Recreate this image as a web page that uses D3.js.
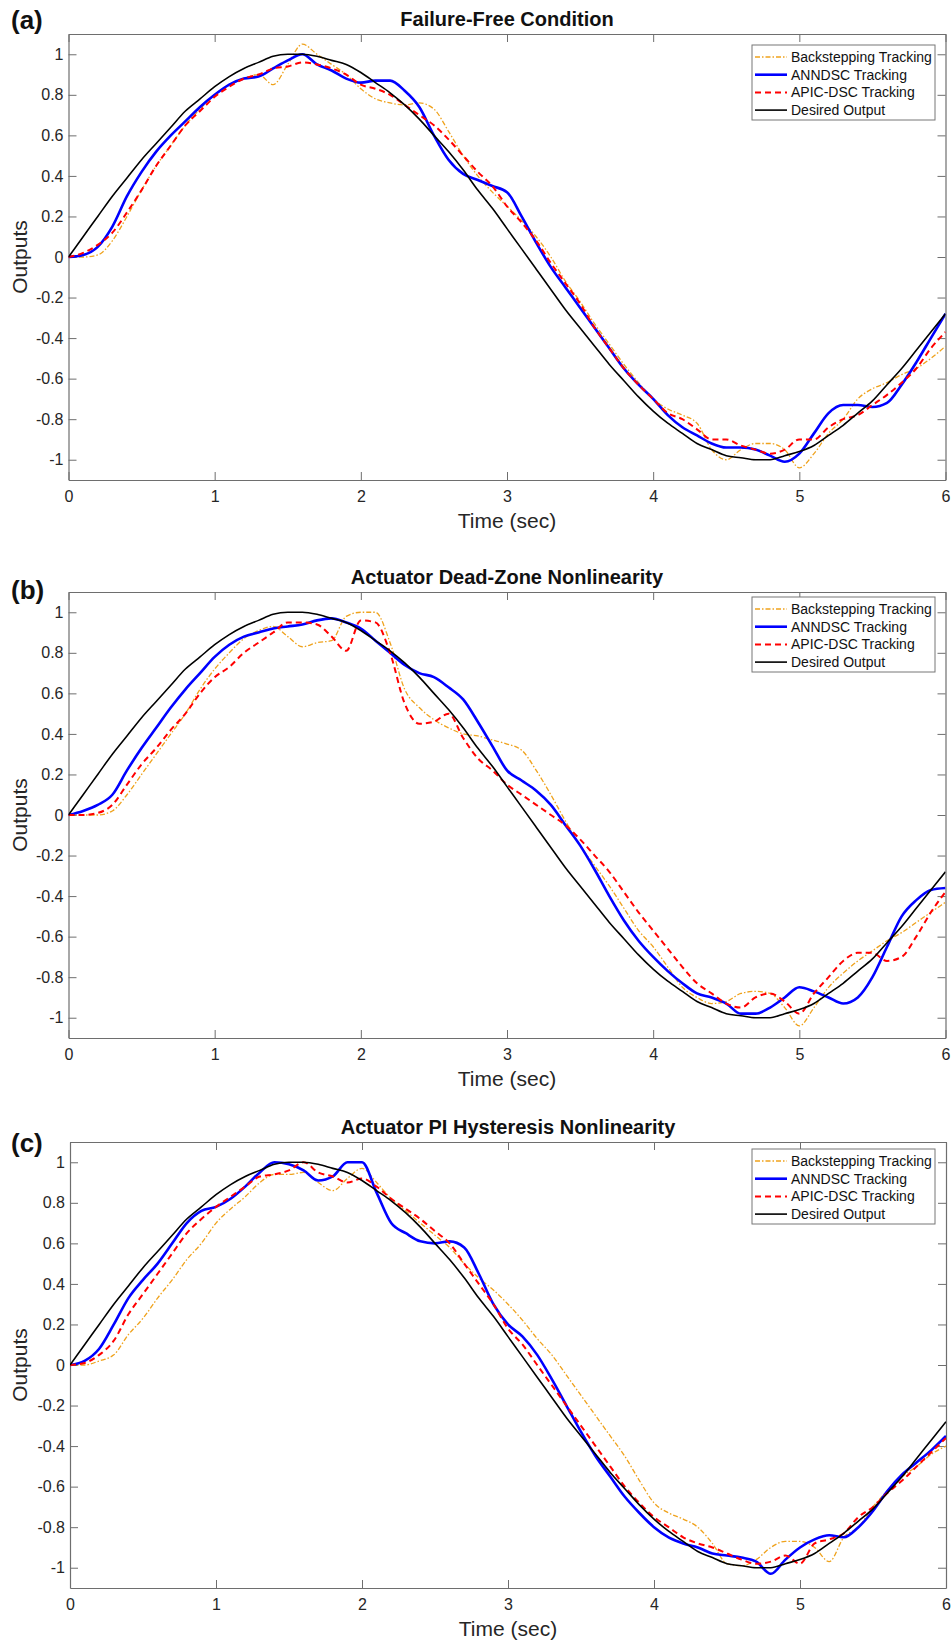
<!DOCTYPE html>
<html>
<head>
<meta charset="utf-8">
<script src="https://cdn.jsdelivr.net/npm/d3@7"></script>
<style>
  body { margin: 0; background: #fff; }
  text { font-family: "Liberation Sans", Arial, sans-serif; }
</style>
</head>
<body>
<svg id="chart" width="952" height="1641"></svg>
<script>
// time samples (sec)
const timeSec = [0,0.1,0.2,0.3,0.4,0.5,0.6,0.7,0.8,0.9,1,1.1,1.2,1.3,1.4,1.5,1.6,1.7,1.8,1.9,
  2,2.1,2.2,2.3,2.4,2.5,2.6,2.7,2.8,2.9,3,3.1,3.2,3.3,3.4,3.5,3.6,3.7,3.8,3.9,
  4,4.1,4.2,4.3,4.4,4.5,4.6,4.7,4.8,4.9,5,5.1,5.2,5.3,5.4,5.5,5.6,5.7,5.8,5.9,6];

const desired = [0,0.1,0.2,0.3,0.39,0.48,0.56,0.64,0.72,0.78,0.84,0.89,0.93,0.96,0.99,1,1,0.99,0.97,0.95,
  0.91,0.86,0.81,0.75,0.68,0.6,0.52,0.43,0.33,0.24,0.14,0.04,-0.06,-0.16,-0.26,-0.35,-0.44,-0.53,-0.61,-0.69,
  -0.76,-0.82,-0.87,-0.92,-0.95,-0.98,-0.99,-1,-1,-0.98,-0.96,-0.93,-0.88,-0.83,-0.77,-0.71,-0.63,-0.55,-0.46,-0.37,-0.28];

// (a) failure-free
const backA = [0,0,0.01,0.08,0.2,0.33,0.45,0.55,0.65,0.73,0.8,0.85,0.88,0.9,0.85,0.95,1.05,1,0.95,0.9,
  0.83,0.78,0.76,0.75,0.76,0.73,0.62,0.5,0.4,0.32,0.25,0.18,0.1,0,-0.12,-0.22,-0.33,-0.43,-0.53,-0.62,
  -0.7,-0.75,-0.78,-0.82,-0.95,-1,-0.95,-0.92,-0.92,-0.95,-1.04,-0.97,-0.87,-0.8,-0.7,-0.65,-0.62,-0.58,-0.55,-0.5,-0.44];
const annA = [0,0.01,0.05,0.15,0.3,0.42,0.52,0.6,0.67,0.74,0.8,0.85,0.88,0.89,0.93,0.97,1,0.95,0.92,0.88,
  0.86,0.87,0.87,0.82,0.74,0.6,0.48,0.41,0.38,0.35,0.32,0.2,0.07,-0.05,-0.15,-0.25,-0.35,-0.45,-0.55,-0.63,
  -0.7,-0.78,-0.84,-0.88,-0.92,-0.94,-0.94,-0.95,-0.98,-1.01,-0.97,-0.87,-0.77,-0.73,-0.73,-0.74,-0.72,-0.63,-0.52,-0.4,-0.28];
const apicA = [0,0.02,0.06,0.12,0.22,0.33,0.45,0.55,0.65,0.72,0.79,0.84,0.88,0.9,0.93,0.94,0.96,0.95,0.93,0.9,
  0.85,0.83,0.8,0.75,0.7,0.65,0.58,0.5,0.42,0.35,0.25,0.17,0.08,-0.03,-0.13,-0.23,-0.35,-0.45,-0.55,-0.63,
  -0.7,-0.77,-0.8,-0.85,-0.9,-0.9,-0.93,-0.95,-0.97,-0.95,-0.9,-0.9,-0.84,-0.8,-0.78,-0.73,-0.68,-0.62,-0.55,-0.45,-0.37];

// (b) dead-zone
const backB = [0,0,0,0.02,0.1,0.2,0.3,0.4,0.5,0.62,0.72,0.8,0.87,0.91,0.93,0.88,0.83,0.85,0.86,0.98,
  1,1,0.85,0.62,0.53,0.47,0.43,0.4,0.39,0.37,0.35,0.32,0.22,0.1,-0.03,-0.15,-0.25,-0.35,-0.46,-0.57,
  -0.65,-0.75,-0.85,-0.9,-0.93,-0.92,-0.88,-0.87,-0.88,-0.95,-1.04,-0.95,-0.85,-0.78,-0.72,-0.67,-0.62,-0.58,-0.53,-0.48,-0.43];
const annB = [0,0.02,0.05,0.1,0.22,0.33,0.43,0.53,0.62,0.7,0.78,0.84,0.88,0.9,0.92,0.93,0.94,0.96,0.97,0.95,
  0.92,0.86,0.8,0.74,0.7,0.68,0.63,0.57,0.46,0.34,0.22,0.17,0.12,0.05,-0.05,-0.15,-0.27,-0.4,-0.52,-0.62,
  -0.7,-0.77,-0.83,-0.88,-0.9,-0.93,-0.98,-0.98,-0.95,-0.9,-0.85,-0.87,-0.9,-0.93,-0.9,-0.8,-0.65,-0.5,-0.42,-0.37,-0.36];
const apicB = [0,0,0.01,0.05,0.15,0.25,0.33,0.42,0.5,0.6,0.68,0.73,0.8,0.85,0.9,0.95,0.95,0.94,0.88,0.81,
  0.96,0.95,0.8,0.55,0.45,0.46,0.5,0.38,0.28,0.22,0.15,0.1,0.05,0,-0.05,-0.12,-0.2,-0.28,-0.38,-0.48,
  -0.57,-0.66,-0.75,-0.83,-0.88,-0.93,-0.95,-0.9,-0.88,-0.92,-0.98,-0.88,-0.8,-0.72,-0.68,-0.68,-0.72,-0.7,-0.6,-0.48,-0.38];

// (c) PI hysteresis
const backC = [0,0,0.02,0.05,0.15,0.23,0.33,0.42,0.52,0.6,0.7,0.77,0.83,0.9,0.94,0.94,0.95,0.9,0.86,0.92,
  0.97,0.9,0.82,0.76,0.7,0.64,0.58,0.5,0.43,0.37,0.3,0.22,0.13,0.05,-0.05,-0.15,-0.25,-0.35,-0.45,-0.57,
  -0.68,-0.73,-0.76,-0.8,-0.88,-0.98,-0.99,-0.96,-0.9,-0.87,-0.87,-0.9,-0.97,-0.85,-0.8,-0.7,-0.62,-0.55,-0.5,-0.44,-0.4];
const annC = [0,0.02,0.08,0.2,0.33,0.42,0.5,0.6,0.7,0.76,0.78,0.82,0.88,0.95,1,0.99,0.96,0.91,0.93,1,
  1,0.85,0.7,0.65,0.61,0.6,0.61,0.58,0.45,0.3,0.2,0.14,0.05,-0.07,-0.2,-0.33,-0.45,-0.55,-0.65,-0.73,
  -0.8,-0.85,-0.88,-0.9,-0.93,-0.94,-0.95,-0.97,-1.03,-0.96,-0.9,-0.86,-0.84,-0.85,-0.8,-0.72,-0.62,-0.54,-0.48,-0.42,-0.35];
const apicC = [0,0.01,0.05,0.12,0.25,0.35,0.45,0.55,0.65,0.72,0.78,0.83,0.88,0.93,0.94,0.96,1,0.95,0.93,0.9,
  0.92,0.88,0.82,0.77,0.72,0.66,0.6,0.5,0.4,0.3,0.18,0.1,0,-0.1,-0.2,-0.3,-0.4,-0.5,-0.6,-0.68,
  -0.75,-0.8,-0.85,-0.88,-0.9,-0.93,-0.96,-0.98,-0.97,-0.94,-0.98,-0.88,-0.86,-0.83,-0.75,-0.7,-0.63,-0.57,-0.5,-0.43,-0.36];

const titles = ["Failure-Free Condition", "Actuator Dead-Zone Nonlinearity", "Actuator PI Hysteresis Nonlinearity"];
const panelTags = ["(a)", "(b)", "(c)"];
const seriesNames = ["Backstepping Tracking", "ANNDSC Tracking", "APIC-DSC Tracking", "Desired Output"];
const panelData = [[backA, annA, apicA], [backB, annB, apicB], [backC, annC, apicC]];
const xTicks = [0, 1, 2, 3, 4, 5, 6];
const yTicks = [1, 0.8, 0.6, 0.4, 0.2, 0, -0.2, -0.4, -0.6, -0.8, -1];

// layout
const panelTop = [34, 592, 1142],
      panelLeft = [68.5, 68.5, 70],
      panelRight = [945.5, 945.5, 946],
      panelH = 446,
      tagY = [29, 599, 1152],   // baseline of (a)/(b)/(c)
      legendOffset = [11, 5, 7];

const styles = [
  {color: "#EFA21C", width: 1.3, dash: "5,2,1.5,2"},
  {color: "#0000FF", width: 2.6, dash: null},
  {color: "#FF0000", width: 2, dash: "6,4"},
  {color: "#000000", width: 1.6, dash: null}
];

const svg = d3.select("#chart");
const axisColor = "#6e6e6e";

panelData.forEach(function(series, p) {
  const top = panelTop[p], left = panelLeft[p], right = panelRight[p];
  const x = d3.scaleLinear().domain([0, 6]).range([left, right]);
  const y = d3.scaleLinear().domain([-1.1, 1.1]).range([top + panelH, top]);

  const g = svg.append("g");

  g.append("clipPath").attr("id", "clip" + p)
    .append("rect").attr("x", left).attr("y", top).attr("width", right - left).attr("height", panelH);

  // axes (box on, ticks inward)
  function styleAxis(sel) {
    sel.selectAll(".domain").attr("stroke", axisColor).attr("stroke-width", 1.2);
    sel.selectAll(".tick line").attr("stroke", axisColor).attr("stroke-width", 1);
    sel.selectAll("text").attr("fill", "#262626").attr("font-size", 16)
      .attr("font-family", '"Liberation Sans", Arial, sans-serif');
  }
  g.append("g").attr("transform", `translate(0,${top + panelH})`)
    .call(d3.axisBottom(x).tickValues(xTicks).tickSize(-8).tickSizeOuter(0).tickPadding(11).tickFormat(d => String(d)))
    .call(styleAxis);
  g.append("g").attr("transform", `translate(0,${top})`)
    .call(d3.axisTop(x).tickValues(xTicks).tickSize(-8).tickSizeOuter(0).tickFormat(""))
    .call(styleAxis);
  g.append("g").attr("transform", `translate(${left},0)`)
    .call(d3.axisLeft(y).tickValues(yTicks).tickSize(-8).tickSizeOuter(0).tickPadding(5).tickFormat(d => String(d)))
    .call(styleAxis);
  g.append("g").attr("transform", `translate(${right},0)`)
    .call(d3.axisRight(y).tickValues(yTicks).tickSize(-8).tickSizeOuter(0).tickFormat(""))
    .call(styleAxis);

  // lines
  const line = d3.line()
    .x((d, i) => x(timeSec[i]))
    .y(d => y(d))
    .curve(d3.curveMonotoneX);

  const all = series.concat([desired]);
  all.forEach(function(vals, k) {
    g.append("path")
      .datum(vals)
      .attr("clip-path", `url(#clip${p})`)
      .attr("fill", "none")
      .attr("stroke", styles[k].color)
      .attr("stroke-width", styles[k].width)
      .attr("stroke-dasharray", styles[k].dash)
      .attr("d", line);
  });

  // title, tag, axis labels
  g.append("text").attr("x", (left + right) / 2).attr("y", top - 8.5)
    .attr("text-anchor", "middle").attr("font-weight", "bold").attr("font-size", 20)
    .attr("fill", "#111").text(titles[p]);
  g.append("text").attr("x", 11).attr("y", tagY[p])
    .attr("font-weight", "bold").attr("font-size", 26).attr("fill", "#111").text(panelTags[p]);
  g.append("text").attr("x", (left + right) / 2).attr("y", top + panelH + 48)
    .attr("text-anchor", "middle").attr("font-size", 21).attr("fill", "#262626").text("Time (sec)");
  g.append("text").attr("transform", `translate(27,${top + panelH / 2}) rotate(-90)`)
    .attr("text-anchor", "middle").attr("font-size", 21).attr("fill", "#262626").text("Outputs");

  // legend
  const lx = 752, ly = top + legendOffset[p], lw = 183, lh = 75;
  const leg = g.append("g");
  leg.append("rect").attr("x", lx).attr("y", ly).attr("width", lw).attr("height", lh)
    .attr("fill", "#fff").attr("stroke", "#777").attr("stroke-width", 1);
  seriesNames.forEach(function(name, k) {
    const ry = ly + 12 + k * 17.7;
    leg.append("line").attr("x1", lx + 3).attr("x2", lx + 35).attr("y1", ry).attr("y2", ry)
      .attr("stroke", styles[k].color).attr("stroke-width", styles[k].width)
      .attr("stroke-dasharray", styles[k].dash);
    leg.append("text").attr("x", lx + 39).attr("y", ry).attr("dy", "0.35em")
      .attr("font-size", 14).attr("fill", "#111").text(name);
  });
});
</script>
</body>
</html>
